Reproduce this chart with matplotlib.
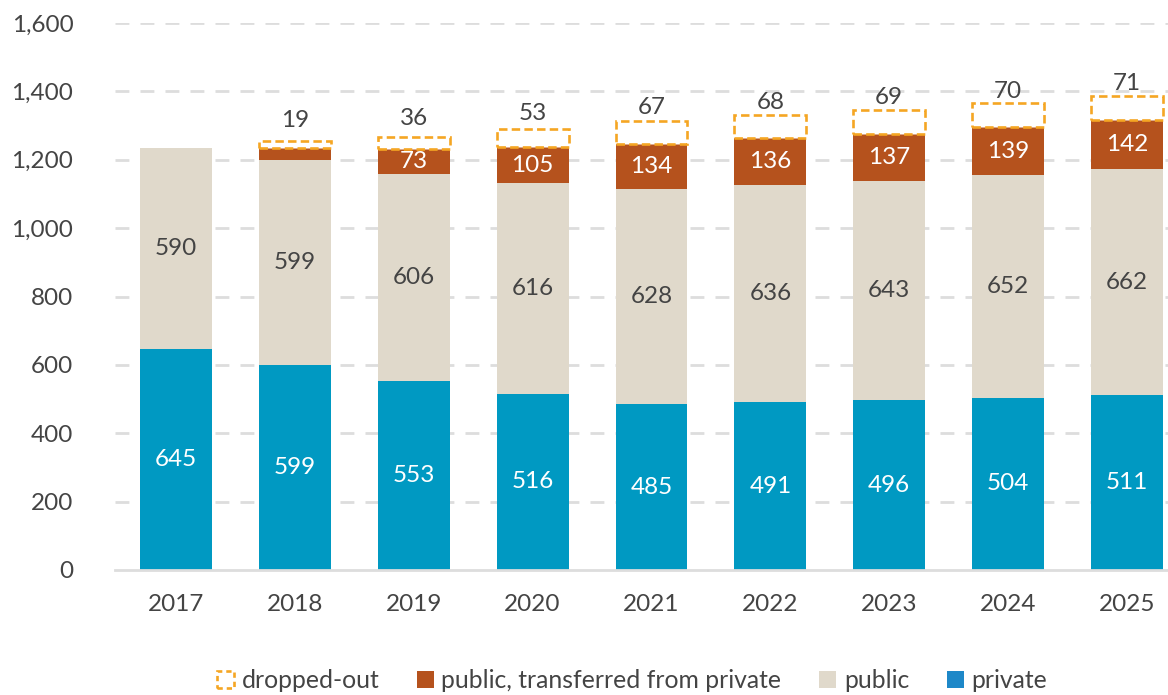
import matplotlib
matplotlib.use("Agg")
import matplotlib.pyplot as plt
from matplotlib.patches import Patch
import numpy as np

years = ["2017", "2018", "2019", "2020", "2021", "2022", "2023", "2024", "2025"]
private = [645, 599, 553, 516, 485, 491, 496, 504, 511]
public = [590, 599, 606, 616, 628, 636, 643, 652, 662]
transferred = [0, 37, 73, 105, 134, 136, 137, 139, 142]
dropped = [0, 19, 36, 53, 67, 68, 69, 70, 71]
transferred_labels = ["", "", "73", "105", "134", "136", "137", "139", "142"]
dropped_labels = ["", "19", "36", "53", "67", "68", "69", "70", "71"]

C_PRIV = "#0099C2"
C_PUB = "#E0D9CB"
C_TRANS = "#B5521D"
C_DROP = "#F5A623"
C_TEXT = "#444444"
C_GRID = "#DDDDDD"

plt.rcParams['font.family'] = ['Lato', 'DejaVu Sans']

fig = plt.figure(figsize=(11.68, 6.95), dpi=100)
ax = fig.add_axes([115/1168, 125/695, 1 - 115/1168, (570-23)/695])

x = np.arange(len(years))
w = 0.605
priv = np.array(private)
pub = np.array(public)
tr = np.array(transferred)
dr = np.array(dropped)

ax.bar(x, priv, w, color=C_PRIV, zorder=2)
ax.bar(x, pub, w, bottom=priv, color=C_PUB, zorder=2)
ax.bar(x, tr, w, bottom=priv + pub, color=C_TRANS, zorder=2)
for i in range(len(x)):
    if dr[i] > 0:
        ax.bar(x[i], dr[i], w, bottom=priv[i] + pub[i] + tr[i], facecolor="white",
               edgecolor=C_DROP, linewidth=1.9, linestyle=(0, (3.2, 1.6)), zorder=3)

fs = 17.5
for i in range(len(x)):
    ax.text(x[i], priv[i] / 2, str(private[i]), ha="center", va="center", color="white", fontsize=fs, zorder=4)
    ax.text(x[i], priv[i] + pub[i] / 2, str(public[i]), ha="center", va="center", color=C_TEXT, fontsize=fs, zorder=4)
    if transferred_labels[i]:
        ax.text(x[i], priv[i] + pub[i] + tr[i] / 2, transferred_labels[i], ha="center", va="center",
                color="white", fontsize=fs, zorder=4)
    if dropped_labels[i]:
        ax.annotate(dropped_labels[i], (x[i], priv[i] + pub[i] + tr[i] + dr[i] / 2),
                    xytext=(0, 17.5), textcoords="offset points", ha="center", va="center",
                    color=C_TEXT, fontsize=fs, zorder=4)

ax.set_xlim(-0.513, 8.345)
ax.set_ylim(0, 1600)
ax.set_yticks(np.arange(0, 1601, 200))
ax.set_yticklabels([f"{v:,}" for v in range(0, 1601, 200)])
ax.set_xticks(x)
ax.set_xticklabels(years)
ax.tick_params(axis="both", length=0, labelsize=fs, labelcolor=C_TEXT)
ax.tick_params(axis="y", pad=30)
ax.tick_params(axis="x", pad=17)

for yv in range(200, 1601, 200):
    ax.axhline(yv, color=C_GRID, linewidth=2, linestyle=(0, (5, 4)), zorder=1)
for s in ["top", "right", "left"]:
    ax.spines[s].set_visible(False)
ax.spines["bottom"].set_color(C_GRID)
ax.spines["bottom"].set_linewidth(2)
ax.spines["bottom"].set_zorder(5)

handles = [
    Patch(facecolor="white", edgecolor=C_DROP, linewidth=1.9, linestyle=(0, (2, 1.5)), label="dropped-out"),
    Patch(facecolor=C_TRANS, label="public, transferred from private"),
    Patch(facecolor=C_PUB, label="public"),
    Patch(facecolor="#1E88C8", label="private"),
]
fig.legend(handles=handles, loc="center", bbox_to_anchor=(0.541, 0.021), ncol=4, frameon=False,
           fontsize=17.8, labelcolor=C_TEXT, handlelength=0.7, handleheight=0.7,
           handletextpad=0.3, columnspacing=1.52)

fig.savefig("out.png", dpi=100)
